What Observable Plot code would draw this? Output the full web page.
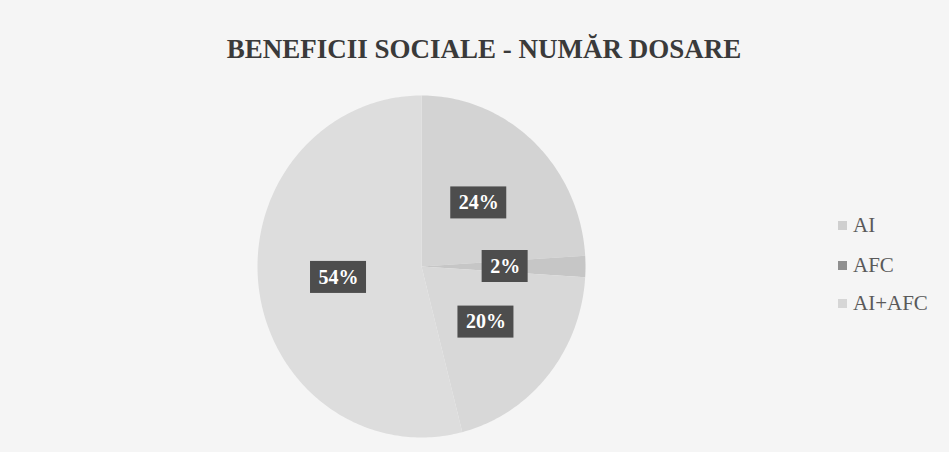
<!DOCTYPE html>
<html>
<head>
<meta charset="utf-8">
<script src="https://cdn.jsdelivr.net/npm/d3@7"></script>
<script src="https://cdn.jsdelivr.net/npm/@observablehq/plot@0.6"></script>
<style>
  html, body { margin: 0; padding: 0; }
  body { width: 949px; height: 452px; overflow: hidden; background: #f5f5f5; font-family: "Liberation Serif", "DejaVu Serif", serif; }
  #wrap { position: relative; width: 949px; height: 452px; }
  #title { height: 95px; position: relative; }
  #title span { position: absolute; top: 36px; left: 0; width: 968px; text-align: center; font-size: 27px; line-height: 27px; font-weight: bold; color: #3a3a3a; white-space: nowrap; }
  #legend { position: absolute; left: 838px; top: 0; }
  .item { position: absolute; left: 0; white-space: nowrap; font-size: 21px; line-height: 21px; color: #5a5a5a; }
  .sw { display: inline-block; width: 9px; height: 9px; margin-right: 6px; vertical-align: 2px; }
</style>
</head>
<body>
<div id="wrap">
  <div id="title"><span>BENEFICII SOCIALE - NUMĂR DOSARE</span></div>
  <div id="chart"></div>
  <div id="legend"></div>
</div>
<script>
// ---- data ----
const categories = ["AI", "AFC", "AI+AFC", ""];
const shares = [24, 2, 20, 54];
const labels = ["24%", "2%", "20%", "54%"];
const legendCategories = ["AI", "AFC", "AI+AFC"];

// ---- styles ----
const sliceColors = ["#d3d3d3", "#c6c6c6", "#d8d8d8", "#dddddd"];
const legendColors = ["#cfcfcf", "#8f8f8f", "#d6d6d6"];

// slices from d3.pie (start at 12 o'clock, clockwise, data order)
const arcs = d3.pie().sort(null).value(d => d)(shares);
const pts = [];
arcs.forEach((a, i) => {
  const key = "s" + i;
  pts.push({key, x: 0, y: 0});
  const n = Math.max(2, Math.ceil((a.endAngle - a.startAngle) / (Math.PI / 180)));
  for (let k = 0; k <= n; k++) {
    const t = a.startAngle + (a.endAngle - a.startAngle) * k / n;
    pts.push({key, x: Math.sin(t), y: Math.cos(t)});
  }
  pts.push({key, x: 0, y: 0});
});
const lab = arcs.map((a, i) => {
  const t = (a.startAngle + a.endAngle) / 2;
  return {label: labels[i], x: 0.51 * Math.sin(t), y: 0.51 * Math.cos(t)};
});

const chart = Plot.plot({
  width: 949,
  height: 357,
  marginLeft: 257,
  marginRight: 364,
  marginTop: 0,
  marginBottom: 15,
  x: {domain: [-1, 1], axis: null},
  y: {domain: [-1, 1], axis: null},
  color: {domain: arcs.map((a, i) => "s" + i), range: sliceColors},
  style: {background: "transparent", overflow: "visible"},
  marks: [
    Plot.line(pts, {x: "x", y: "y", z: "key", fill: "key", stroke: "none", curve: "linear"}),
    Plot.rect(lab.filter(d => d.label.length > 2), {x1: "x", x2: "x", y1: "y", y2: "y", fill: "#4d4d4d", insetLeft: -28, insetRight: -28, insetTop: -16, insetBottom: -16}),
    Plot.rect(lab.filter(d => d.label.length <= 2), {x1: "x", x2: "x", y1: "y", y2: "y", fill: "#4d4d4d", insetLeft: -23, insetRight: -23, insetTop: -16, insetBottom: -16}),
    Plot.text(lab, {x: "x", y: "y", text: "label", fill: "white", fontSize: 20, fontWeight: "bold", fontFamily: "Liberation Serif, serif"})
  ]
});
document.getElementById("chart").appendChild(chart);

// legend
const tops = [215, 255, 293];
const leg = document.getElementById("legend");
legendCategories.forEach((c, i) => {
  const div = document.createElement("div");
  div.className = "item";
  div.style.top = tops[i] + "px";
  const sw = document.createElement("span");
  sw.className = "sw";
  sw.style.background = legendColors[i];
  div.appendChild(sw);
  div.appendChild(document.createTextNode(c));
  leg.appendChild(div);
});
</script>
</body>
</html>
